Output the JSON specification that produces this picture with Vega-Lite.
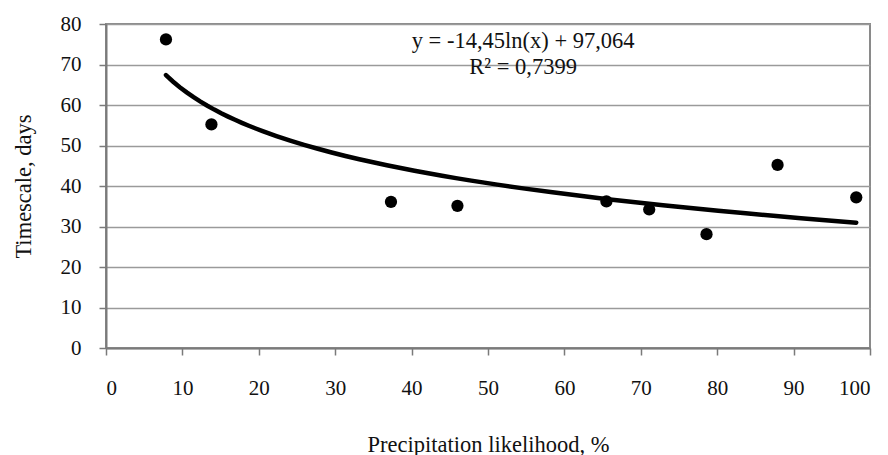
{
  "$schema": "https://vega.github.io/schema/vega-lite/v6.json",
  "width": 764,
  "height": 324,
  "autosize": {"type": "none"},
  "padding": {"left": 106, "top": 24, "right": 18, "bottom": 107},
  "background": "white",
  "config": {
    "font": "Liberation Serif",
    "view": {"stroke": "#8a8a8a", "strokeWidth": 2},
    "axis": {
      "labelFont": "Liberation Serif",
      "titleFont": "Liberation Serif",
      "labelFontSize": 21,
      "titleFontSize": 22.5,
      "titleFontWeight": "normal",
      "labelColor": "#111",
      "titleColor": "#111",
      "gridColor": "#9a9a9a",
      "gridWidth": 1.5,
      "domainColor": "#7a7a7a",
      "domainWidth": 2,
      "tickColor": "#7a7a7a",
      "tickWidth": 1.5,
      "tickSize": 7
    }
  },
  "datasets": {
    "points": [
      {"likelihood": 7.85, "days": 76.2},
      {"likelihood": 13.8, "days": 55.2},
      {"likelihood": 37.3, "days": 36.1},
      {"likelihood": 46.0, "days": 35.1},
      {"likelihood": 65.5, "days": 36.2},
      {"likelihood": 71.1, "days": 34.2},
      {"likelihood": 78.6, "days": 28.1},
      {"likelihood": 87.9, "days": 45.2},
      {"likelihood": 98.2, "days": 37.2}
    ],
    "labels": [
      {"lx": 54.6, "ly": 75.9, "label": "y = -14,45ln(x) + 97,064"},
      {"lx": 54.6, "ly": 69.4, "label": "R² = 0,7399"}
    ]
  },
  "layer": [
    {
      "data": {"name": "points"},
      "transform": [
        {"regression": "days", "on": "likelihood", "method": "log"}
      ],
      "mark": {"type": "line", "color": "black", "strokeWidth": 4.5, "strokeCap": "round"},
      "encoding": {
        "x": {
          "field": "likelihood",
          "type": "quantitative",
          "scale": {"domain": [0, 100], "nice": false},
          "axis": {
            "title": "Precipitation likelihood, %",
            "values": [0, 10, 20, 30, 40, 50, 60, 70, 80, 90, 100],
            "grid": false,
            "labelPadding": 22,
            "titlePadding": 35
          }
        },
        "y": {
          "field": "days",
          "type": "quantitative",
          "scale": {"domain": [0, 80], "nice": false},
          "axis": {
            "title": "Timescale, days",
            "values": [0, 10, 20, 30, 40, 50, 60, 70, 80],
            "grid": true,
            "labelPadding": 18,
            "titlePadding": 25
          }
        }
      }
    },
    {
      "data": {"name": "points"},
      "mark": {"type": "circle", "color": "black", "opacity": 1, "size": 150},
      "encoding": {
        "x": {"field": "likelihood", "type": "quantitative"},
        "y": {"field": "days", "type": "quantitative"}
      }
    },
    {
      "data": {"name": "labels"},
      "mark": {"type": "text", "font": "Liberation Serif", "fontSize": 22.5, "color": "#111", "align": "center", "baseline": "middle"},
      "encoding": {
        "x": {"field": "lx", "type": "quantitative"},
        "y": {"field": "ly", "type": "quantitative"},
        "text": {"field": "label"}
      }
    }
  ]
}
